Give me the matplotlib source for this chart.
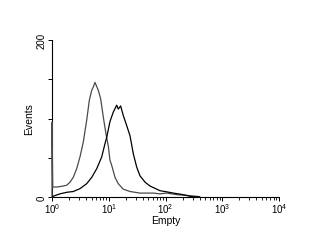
import matplotlib
matplotlib.use("Agg")
import matplotlib.pyplot as plt
from matplotlib.ticker import LogLocator, NullFormatter

plt.rcParams['font.family'] = ['Liberation Sans', 'DejaVu Sans']
plt.rcParams['mathtext.fontset'] = 'custom'
plt.rcParams['mathtext.rm'] = 'Liberation Sans'

# control (gray) histogram: channel value vs events
gray_x = [1.0, 1.0, 1.03, 1.21, 1.48, 1.82, 2.08, 2.37, 2.72, 3.11, 3.56, 4.09,
          4.54, 5.01, 5.34, 5.72, 6.54, 7.21, 8.01, 8.95, 9.82, 10.5, 11.3, 12.9,
          14.7, 18.0, 23.7, 35.5, 61, 80, 105, 158, 269, 398]
gray_y = [0, 95, 12.7, 12.7, 13.6, 15, 19, 25, 36, 51, 70, 98,
          123, 136, 140, 146, 136, 125, 102, 80, 65, 47, 40, 25,
          17, 10, 7, 5, 5, 4, 5, 3, 1.7, 0.5]

# stained (black) histogram
black_x = [1.0, 1.05, 1.38, 1.82, 2.37, 3.11, 4.09, 5.01, 6.13, 7.51, 8.59, 9.2,
           10.5, 12.0, 13.8, 14.7, 16.2, 18.0, 20.7, 23.7, 27.1, 31.1, 35.5,
           43.5, 53.3, 70, 80, 98, 137, 204, 288, 400]
black_y = [0, 1, 4, 6, 7, 10.6, 17, 25, 36, 51, 68, 76,
           96, 108, 117, 112, 116, 104, 91, 78, 55, 38, 27,
           19, 14, 10, 8, 7, 5, 3, 0.5, 0]

x_ticks = [1, 10, 100, 1000, 10000]
x_labels = [r'$10^{0}$', r'$10^{1}$', r'$10^{2}$', r'$10^{3}$', r'$10^{4}$']
y_ticks = [0, 50, 100, 150, 200]
y_labels = ['0', '', '', '', '200']

fig = plt.figure(figsize=(3.34, 2.51), dpi=100)
ax = fig.add_axes([52 / 334, 1 - 198 / 251, 227 / 334, 157 / 251])

ax.plot(gray_x, gray_y, color='#4a4a4a', lw=0.9, zorder=3, clip_on=False)
ax.plot(black_x, black_y, color='black', lw=0.9, zorder=3)

ax.set_xscale('log')
ax.set_xlim(1, 10000)
ax.set_ylim(0, 200)
ax.spines['top'].set_visible(False)
ax.spines['right'].set_visible(False)
ax.spines['left'].set_linewidth(0.8)
ax.spines['bottom'].set_linewidth(0.8)

ax.set_xticks(x_ticks)
ax.set_xticklabels(x_labels, fontsize=7)
ax.xaxis.set_minor_locator(LogLocator(base=10, subs=range(2, 10)))
ax.xaxis.set_minor_formatter(NullFormatter())
ax.tick_params(axis='x', which='major', length=3, width=0.7, pad=0)
ax.tick_params(axis='x', which='minor', length=2, width=0.6)

ax.set_yticks(y_ticks)
ax.set_yticklabels(y_labels, fontsize=7, rotation=90, va='center')
ax.tick_params(axis='y', length=3, width=0.7, pad=1)

ax.set_xlabel('Empty', fontsize=7.5, labelpad=0)
ax.set_ylabel('Events', fontsize=7.5, labelpad=2)

fig.savefig('out.png', dpi=100)
